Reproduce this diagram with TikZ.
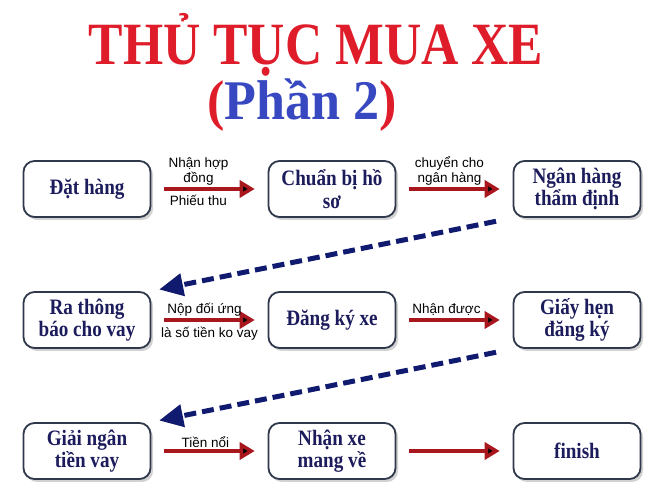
\documentclass[tikz,border=0pt]{standalone}
\usepackage{fontspec}
\setmainfont{Liberation Serif}
\setsansfont{Liberation Sans}
\usetikzlibrary{positioning, arrows.meta, shadows}
\definecolor{titlered}{RGB}{222,28,42}
\definecolor{titleblue}{RGB}{55,72,192}
\definecolor{boxtext}{RGB}{28,28,92}
\definecolor{boxline}{RGB}{48,56,76}
\definecolor{arrowred}{RGB}{168,22,30}
\definecolor{dashblue}{RGB}{16,26,110}

\begin{document}
\begin{tikzpicture}[node distance=131pt and 245pt,on grid,auto,
  box/.style={draw=boxline,line width=1.8pt,fill=white,rounded corners=11pt,
    minimum width=146pt,minimum height=56pt,align=center,text=boxtext,
    font=\bfseries\fontsize{22}{22.5}\selectfont,xscale=0.87,transform shape,
    drop shadow={shadow xshift=2.5pt,shadow yshift=-3pt,fill=black!35}},
  lbl/.style={font=\sffamily\fontsize{13.5}{15}\selectfont,text=black,
    inner sep=2pt,align=center},
  go/.style={draw=arrowred,line width=3.5pt,-{Triangle[length=15pt,width=17pt]},
    shorten <=13pt,shorten >=13pt,
    preaction={draw=black!22,transform canvas={xshift=1pt,yshift=-2.5pt}}},
  dashgo/.style={draw=dashblue,line width=5pt,dash pattern=on 12pt off 6pt,
    -{Triangle[length=24pt,width=22pt]},shorten <=17pt,shorten >=8pt},
  head/.style={anchor=base,inner sep=0pt,text=titlered}]
\useasboundingbox (0,0) rectangle (656pt,500pt);

% title
\node[head] (title) at (316pt,435pt)
  {\scalebox{0.86}[1]{\bfseries\fontsize{60}{60}\selectfont THỦ TỤC MUA XE}};
\node[head] (part) at (302pt,380pt)
  {\scalebox{0.93}[1]{\bfseries\fontsize{56}{56}\selectfont (\textcolor{titleblue}{Phần 2})}};

% steps
\node[box] (dat) at (87pt,311pt) {Đặt hàng};
\node[box] (chuan) [right=of dat] {Chuẩn bị hồ\\sơ};
\node[box] (ngan) [right=of chuan] {Ngân hàng\\thẩm định};
\node[box] (ra) [below=of dat] {Ra thông\\báo cho vay};
\node[box] (dang) [right=of ra] {Đăng ký xe};
\node[box] (hen) [right=of dang] {Giấy hẹn\\đăng ký};
\node[box] (giai) [below=of ra] {Giải ngân\\tiền vay};
\node[box] (nhan) [right=of giai] {Nhận xe\\mang về};
\node[box] (fin) [right=of nhan] {finish};

\path[go]
(dat) edge node[lbl,xshift=-11pt] {Nhận hợp\\đồng}
           node[lbl,swap,xshift=-11pt,inner sep=4pt] {Phiếu thu} (chuan)
(chuan) edge node[lbl,xshift=-5pt] {chuyển cho\\ngân hàng} (ngan)
(ra) edge node[lbl,xshift=-5pt] {Nộp đối ứng}
          node[lbl,swap,inner sep=5.5pt] {là số tiền ko vay} (dang)
(dang) edge node[lbl,xshift=-8pt,inner sep=3pt] {Nhận được} (hen)
(giai) edge node[lbl,xshift=-4pt] {Tiền nổi} (nhan)
(nhan) edge (fin);

\draw[dashgo] (ngan.south west) -- (ra.north east);
\draw[dashgo] (hen.south west) -- (giai.north east);
\end{tikzpicture}
\end{document}
